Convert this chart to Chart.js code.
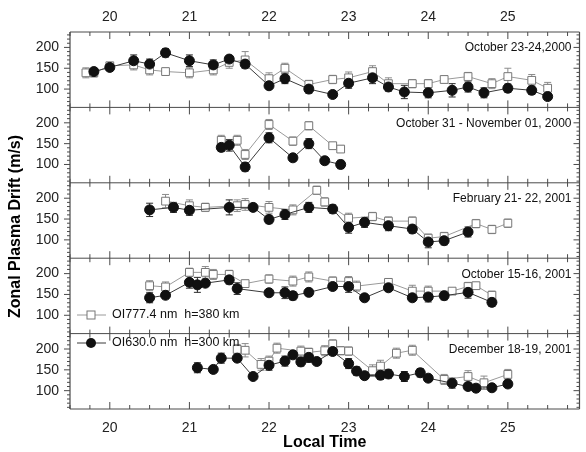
<!DOCTYPE html>
<html>
<head>
<meta charset="utf-8">
<script src="https://cdn.jsdelivr.net/npm/chart.js@4.4.1/dist/chart.umd.min.js"></script>
<style>
  body { margin: 0; background: #fff; }
</style>
</head>
<body>
<canvas id="grafica" width="586" height="452"></canvas>
<script>
// etiquetas y ejes
const panelLabels = ['October 23-24,2000', 'October 31 - November 01, 2000', 'February 21- 22, 2001', 'October 15-16, 2001', 'December 18-19, 2001'];
const seriesNames = ['OI777.4 nm  h=380 km', 'OI630.0 nm  h=300 km'];
const xTicks = [20, 21, 22, 23, 24, 25];
const yTicks = [100, 150, 200];

// panel 1 - October 23-24, 2000
const p1SqT = [19.7, 19.8, 20.0, 20.3, 20.5, 20.7, 21.0, 21.3, 21.5, 21.7, 22.0, 22.2, 22.5, 22.8, 23.0, 23.3, 23.5, 23.8, 24.0, 24.2, 24.5, 24.8, 25.0, 25.3, 25.5];
const p1Sq  = [139, 139, 156, 158, 146, 142, 139, 146, 164, 170, 125, 150, 111, 123, 127, 142, 113, 113, 113, 123, 130, 113, 130, 121, 102];
const p1SqE = [12, 10, 8, 12, 12, 8, 12, 12, 14, 20, 14, 12, 10, 10, 14, 14, 14, 10, 10, 8, 10, 12, 20, 14, 14];
const p1CiT = [19.8, 20.0, 20.3, 20.5, 20.7, 21.0, 21.3, 21.5, 21.7, 22.0, 22.2, 22.5, 22.8, 23.0, 23.3, 23.5, 23.7, 24.0, 24.3, 24.5, 24.7, 25.0, 25.3, 25.5];
const p1Ci  = [142, 152, 168, 160, 187, 168, 158, 172, 160, 108, 125, 100, 87, 114, 127, 105, 93, 91, 97, 105, 91, 102, 97, 82];
const p1CiE = [8, 8, 14, 12, 10, 14, 12, 8, 10, 6, 12, 10, 6, 12, 14, 10, 16, 12, 16, 12, 12, 10, 10, 6];

// panel 2 - October 31 - November 01, 2000
const p2SqT = [21.4, 21.6, 21.7, 22.0, 22.3, 22.5, 22.8, 22.9];
const p2Sq  = [158, 158, 124, 196, 156, 193, 145, 137];
const p2SqE = [12, 12, 12, 12, 10, 10, 8, 8];
const p2CiT = [21.4, 21.5, 21.7, 22.0, 22.3, 22.5, 22.7, 22.9];
const p2Ci  = [141, 146, 94, 164, 116, 150, 109, 100];
const p2CiE = [10, 14, 10, 12, 8, 12, 8, 10];

// panel 3 - February 21-22, 2001
const p3SqT = [20.7, 21.0, 21.2, 21.6, 21.7, 22.0, 22.3, 22.6, 22.7, 23.0, 23.3, 23.5, 23.8, 24.0, 24.2, 24.6, 24.8, 25.0];
const p3Sq  = [193, 182, 178, 182, 185, 178, 172, 219, 191, 152, 156, 145, 145, 104, 108, 139, 125, 140];
const p3SqE = [16, 14, 10, 14, 14, 14, 12, 10, 10, 12, 10, 10, 10, 10, 10, 10, 10, 10];
const p3CiT = [20.5, 20.8, 21.0, 21.5, 21.8, 22.0, 22.2, 22.5, 22.8, 23.0, 23.2, 23.5, 23.8, 24.0, 24.2, 24.5];
const p3Ci  = [172, 178, 171, 178, 178, 149, 161, 178, 174, 130, 142, 134, 126, 95, 98, 119];
const p3CiE = [16, 12, 12, 18, 8, 10, 12, 12, 10, 14, 12, 12, 10, 14, 10, 12];

// panel 4 - October 15-16, 2001
const p4SqT = [20.5, 20.7, 21.0, 21.2, 21.3, 21.5, 21.7, 22.0, 22.3, 22.5, 22.8, 23.0, 23.1, 23.5, 23.8, 24.0, 24.3, 24.5, 24.6, 24.8];
const p4Sq  = [171, 168, 203, 203, 198, 198, 176, 187, 182, 192, 182, 181, 170, 179, 158, 158, 158, 169, 171, 148];
const p4SqE = [12, 12, 10, 14, 12, 10, 8, 10, 12, 12, 10, 12, 12, 8, 14, 12, 6, 10, 8, 10];
const p4CiT = [20.5, 20.7, 21.0, 21.1, 21.2, 21.5, 21.6, 22.0, 22.2, 22.3, 22.5, 22.8, 23.0, 23.2, 23.5, 23.8, 24.0, 24.2, 24.5, 24.8];
const p4Ci  = [142, 148, 179, 173, 177, 185, 164, 154, 154, 147, 155, 169, 169, 142, 166, 142, 144, 147, 155, 131];
const p4CiE = [12, 8, 14, 18, 8, 10, 14, 6, 14, 10, 8, 8, 14, 8, 6, 8, 12, 10, 14, 10];

// panel 5 - December 18-19, 2001
const p5SqT = [21.6, 21.7, 21.9, 22.0, 22.1, 22.4, 22.5, 22.7, 22.8, 22.9, 23.0, 23.3, 23.4, 23.6, 23.8, 24.2, 24.5, 24.7, 25.0];
const p5Sq  = [199, 197, 163, 171, 202, 195, 192, 196, 212, 196, 195, 148, 159, 190, 197, 127, 134, 119, 139];
const p5SqE = [12, 16, 14, 12, 12, 12, 10, 12, 10, 10, 10, 14, 14, 12, 12, 12, 14, 16, 12];
const p5CiT = [21.1, 21.3, 21.4, 21.6, 21.8, 22.0, 22.2, 22.3, 22.4, 22.5, 22.6, 22.8, 23.0, 23.1, 23.2, 23.4, 23.5, 23.7, 23.9, 24.0, 24.3, 24.5, 24.6, 24.8, 25.0];
const p5Ci  = [155, 151, 178, 178, 134, 161, 171, 186, 169, 180, 170, 194, 165, 147, 136, 137, 140, 134, 143, 130, 118, 110, 106, 107, 116];
const p5CiE = [12, 8, 12, 8, 6, 12, 12, 8, 10, 12, 8, 8, 12, 10, 8, 10, 10, 12, 10, 8, 12, 8, 8, 6, 8];

const panels = [
  { sqT: p1SqT, sq: p1Sq, sqE: p1SqE, ciT: p1CiT, ci: p1Ci, ciE: p1CiE },
  { sqT: p2SqT, sq: p2Sq, sqE: p2SqE, ciT: p2CiT, ci: p2Ci, ciE: p2CiE },
  { sqT: p3SqT, sq: p3Sq, sqE: p3SqE, ciT: p3CiT, ci: p3Ci, ciE: p3CiE },
  { sqT: p4SqT, sq: p4Sq, sqE: p4SqE, ciT: p4CiT, ci: p4Ci, ciE: p4CiE },
  { sqT: p5SqT, sq: p5Sq, sqE: p5SqE, ciT: p5CiT, ci: p5Ci, ciE: p5CiE }
];

const yIds = ['y1', 'y2', 'y3', 'y4', 'y5'];
const colSq = '#8c8c8c';
const colCi = '#2a2a2a';

const datasets = [];
panels.forEach((p, i) => {
  datasets.push({
    label: seriesNames[1],
    yAxisID: yIds[i],
    data: p.ciT.map((t, k) => ({ x: t, y: p.ci[k] })),
    err: p.ciE,
    errColor: colCi,
    borderColor: '#3a3a3a',
    borderWidth: 1,
    pointStyle: 'circle',
    pointRadius: 5,
    pointBackgroundColor: '#111',
    pointBorderColor: '#111',
    order: 1
  });
  datasets.push({
    label: seriesNames[0],
    yAxisID: yIds[i],
    data: p.sqT.map((t, k) => ({ x: t, y: p.sq[k] })),
    err: p.sqE,
    errColor: colSq,
    borderColor: '#9a9a9a',
    borderWidth: 1,
    pointStyle: 'rect',
    pointRadius: 5.5,
    pointBackgroundColor: '#fff',
    pointBorderColor: '#777',
    pointBorderWidth: 1,
    order: 2
  });
});

// marco, marcas de ejes, barras de error, textos
const marco = {
  id: 'marco',
  beforeDatasetsDraw(chart) {
    const ctx = chart.ctx;
    const area = chart.chartArea;
    const xs = chart.scales.x;
    ctx.save();
    ctx.strokeStyle = '#4a4a4a';
    ctx.lineWidth = 1.2;

    // bordes verticales
    ctx.beginPath();
    ctx.moveTo(area.left, area.top); ctx.lineTo(area.left, area.bottom);
    ctx.moveTo(area.right, area.top); ctx.lineTo(area.right, area.bottom);
    ctx.stroke();

    // lineas horizontales entre paneles y marcas de tiempo
    const bounds = [chart.scales.y1.top].concat(yIds.map(id => chart.scales[id].bottom));
    ctx.lineWidth = 1;
    bounds.forEach((by, b) => {
      ctx.beginPath();
      ctx.moveTo(area.left, by); ctx.lineTo(area.right, by);
      for (let v = 19.5; v <= 25.9; v += 0.25) {
        const px = xs.getPixelForValue(v);
        const major = Math.abs(v - Math.round(v)) < 0.01;
        const len = major ? 7 : 4;
        const up = b === 0 ? 0 : len;
        const down = b === bounds.length - 1 ? 0 : len;
        ctx.moveTo(px, by - up); ctx.lineTo(px, by + down);
      }
      ctx.stroke();
    });

    // marcas de velocidad
    yIds.forEach(id => {
      const ys = chart.scales[id];
      ctx.beginPath();
      for (let v = 60; v <= 230; v += 10) {
        const py = ys.getPixelForValue(v);
        const len = v % 50 === 0 ? 6 : 3;
        ctx.moveTo(area.left - len, py); ctx.lineTo(area.left, py);
        ctx.moveTo(area.right - len, py); ctx.lineTo(area.right, py);
      }
      ctx.stroke();
    });

    // barras de error
    ctx.beginPath();
    ctx.rect(area.left, area.top, area.right - area.left, area.bottom - area.top);
    ctx.clip();
    chart.data.datasets.forEach((ds, i) => {
      const meta = chart.getDatasetMeta(i);
      const ys = chart.scales[ds.yAxisID];
      ctx.strokeStyle = ds.errColor;
      ctx.lineWidth = 1;
      ctx.beginPath();
      meta.data.forEach((pt, k) => {
        const v = ds.data[k].y;
        const e = ds.err[k];
        const y1 = ys.getPixelForValue(v + e);
        const y2 = ys.getPixelForValue(v - e);
        ctx.moveTo(pt.x, y1); ctx.lineTo(pt.x, y2);
        ctx.moveTo(pt.x - 3.5, y1); ctx.lineTo(pt.x + 3.5, y1);
        ctx.moveTo(pt.x - 3.5, y2); ctx.lineTo(pt.x + 3.5, y2);
      });
      ctx.stroke();
    });
    ctx.restore();
  },
  afterDraw(chart) {
    const ctx = chart.ctx;
    const area = chart.chartArea;
    ctx.save();
    ctx.fillStyle = '#111';
    ctx.font = '12px "Liberation Sans", Arial, sans-serif';
    ctx.textAlign = 'right';
    ctx.textBaseline = 'middle';
    yIds.forEach((id, i) => {
      ctx.fillText(panelLabels[i], area.right - 8, chart.scales[id].top + 16);
    });

    // leyenda
    const legendY = [315, 343];
    ctx.textAlign = 'left';
    ctx.font = '12.5px "Liberation Sans", Arial, sans-serif';
    ctx.lineWidth = 1;
    ctx.strokeStyle = '#9a9a9a';
    ctx.beginPath(); ctx.moveTo(77, legendY[0]); ctx.lineTo(106, legendY[0]); ctx.stroke();
    ctx.fillStyle = '#fff'; ctx.strokeStyle = '#777';
    ctx.fillRect(87, legendY[0] - 4, 8, 8); ctx.strokeRect(87, legendY[0] - 4, 8, 8);
    ctx.strokeStyle = '#3a3a3a';
    ctx.beginPath(); ctx.moveTo(77, legendY[1]); ctx.lineTo(106, legendY[1]); ctx.stroke();
    ctx.fillStyle = '#111';
    ctx.beginPath(); ctx.arc(91, legendY[1], 5, 0, Math.PI * 2); ctx.fill();
    ctx.fillText(seriesNames[0], 112, legendY[0]);
    ctx.fillText(seriesNames[1], 112, legendY[1]);

    // titulo del eje vertical
    ctx.translate(16, (area.top + area.bottom) / 2 + 6);
    ctx.rotate(-Math.PI / 2);
    ctx.textAlign = 'center';
    ctx.font = 'bold 16px "Liberation Sans", Arial, sans-serif';
    ctx.fillStyle = '#000';
    ctx.fillText('Zonal Plasma Drift (m/s)', 0, 0);
    ctx.restore();
  }
};

const tickFont = { family: '"Liberation Sans", Arial, sans-serif', size: 14 };
const fixTicks = vals => s => { s.ticks = vals.map(v => ({ value: v })); };

const scales = {
  x: {
    type: 'linear', position: 'bottom', min: 19.5, max: 25.9,
    afterBuildTicks: fixTicks(xTicks),
    afterFit: s => { s.height = 43; },
    grid: { display: false, drawTicks: false },
    border: { display: false },
    ticks: { padding: 11, font: tickFont, color: '#222' },
    title: { display: true, text: 'Local Time', color: '#000', padding: { top: 0, bottom: 0 },
      font: { family: '"Liberation Sans", Arial, sans-serif', size: 16, weight: 'bold' } }
  },
  x2: {
    type: 'linear', position: 'top', min: 19.5, max: 25.9,
    afterBuildTicks: fixTicks(xTicks),
    afterFit: s => { s.height = 32; },
    grid: { display: false, drawTicks: false },
    border: { display: false },
    ticks: { padding: 6, font: tickFont, color: '#222' }
  }
};
yIds.forEach((id, i) => {
  scales[id] = {
    type: 'linear', position: 'left', stack: 'paneles', stackWeight: 1, weight: 5 - i,
    min: 56, max: 237,
    afterBuildTicks: fixTicks(yTicks),
    afterFit: s => { s.width = 70; },
    grid: { display: false, drawTicks: false },
    border: { display: false },
    ticks: { padding: 11, font: tickFont, color: '#222' }
  };
});

new Chart(document.getElementById('grafica').getContext('2d'), {
  type: 'line',
  data: { datasets },
  options: {
    responsive: false,
    animation: false,
    devicePixelRatio: 1,
    layout: { padding: { left: 0, right: 1, top: 0, bottom: 0 } },
    plugins: { legend: { display: false }, tooltip: { enabled: false } },
    scales
  },
  plugins: [marco]
});
</script>
</body>
</html>
